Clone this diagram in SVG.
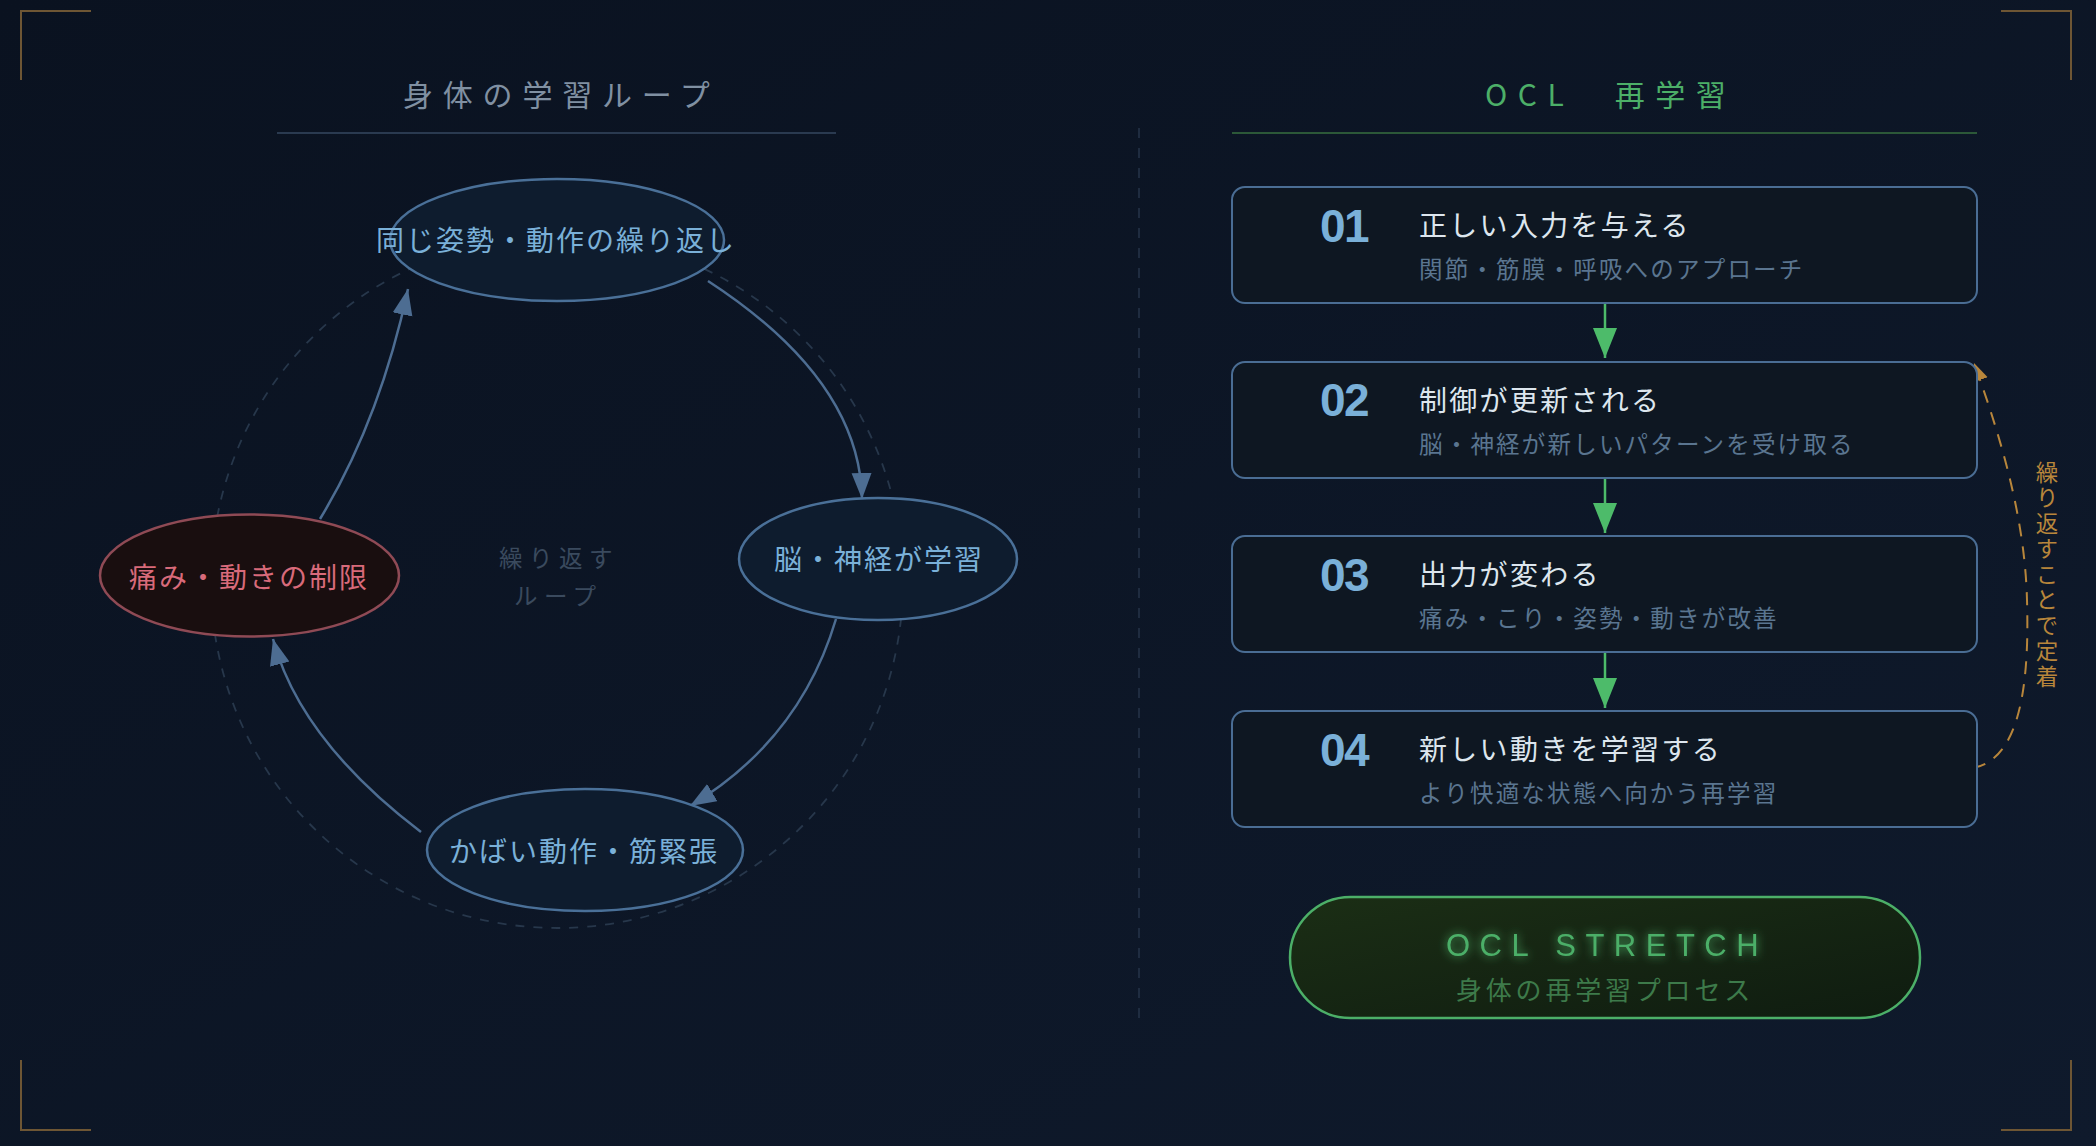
<svg xmlns="http://www.w3.org/2000/svg" width="2096" height="1146" viewBox="0 0 2096 1146">
<defs>
<linearGradient id="bg" x1="0" y1="0" x2="1" y2="1">
<stop offset="0" stop-color="#0a1220"/>
<stop offset="1" stop-color="#0f1a2c"/>
</linearGradient>
<linearGradient id="pill" x1="0" y1="0" x2="1" y2="1">
<stop offset="0" stop-color="#1b2e15"/>
<stop offset="1" stop-color="#0f1c10"/>
</linearGradient>
<filter id="glow" x="-20%" y="-50%" width="140%" height="200%">
<feGaussianBlur in="SourceGraphic" stdDeviation="5" result="b"/>
<feMerge><feMergeNode in="b"/><feMergeNode in="SourceGraphic"/></feMerge>
</filter>
<marker id="ah" markerUnits="userSpaceOnUse" markerWidth="28" markerHeight="22" refX="26" refY="10" orient="auto">
<path d="M0,0 L26,10 L0,20 z" fill="#4d6d92"/>
</marker>
<marker id="ahg" markerUnits="userSpaceOnUse" markerWidth="32" markerHeight="26" refX="30" refY="12" orient="auto">
<path d="M0,0 L30,12 L0,24 z" fill="#4dbb6a"/>
</marker>
<marker id="aho" markerUnits="userSpaceOnUse" markerWidth="20" markerHeight="18" refX="18" refY="8" orient="auto">
<path d="M0,0 L18,8 L0,16 z" fill="#b8863b"/>
</marker>
<style>
.jp{font-family:"Noto Sans CJK JP","Noto Sans CJK SC",sans-serif;}
.corner{fill:none;stroke:#6e5634;stroke-width:2;}
.ell{fill:#0e1c2e;stroke:#4a7098;stroke-width:2.5;}
.ellt{font-size:28px;letter-spacing:2px;fill:#7ab0d8;}
.conn{fill:none;stroke:#4d6d92;stroke-width:2.5;marker-end:url(#ah);}
.box{fill:#0e1722;stroke:#4a6d94;stroke-width:2;}
.num{font-family:"Liberation Sans",Arial,sans-serif;font-weight:bold;font-size:46px;fill:#7ab0d8;letter-spacing:-1.5px;}
.bt{font-size:28px;letter-spacing:2.3px;fill:#dde6ee;}
.bs{font-size:23.5px;letter-spacing:2.2px;fill:#5a7590;}
.garrow{stroke:#4dbb6a;stroke-width:2.5;marker-end:url(#ahg);}
</style>
</defs>
<rect x="0" y="0" width="2096" height="1146" fill="url(#bg)"/>

<g id="frame">
<path class="corner" d="M91,11 H21 V80"/>
<path class="corner" d="M2001,11 H2071 V80"/>
<path class="corner" d="M21,1060 V1130 H91"/>
<path class="corner" d="M2071,1060 V1130 H2001"/>
<line x1="1139" y1="128" x2="1139" y2="1026" stroke="#26354a" stroke-width="1.5" stroke-dasharray="10,10"/>
</g>

<g id="left-title">
<text class="jp" x="403" y="106" font-size="30" letter-spacing="9.8" fill="#8090a2">身体の学習ループ</text>
<line x1="277" y1="133" x2="836" y2="133" stroke="#2a3a50" stroke-width="2"/>
</g>

<g id="right-title">
<text class="jp" x="1485" y="106" font-size="30" letter-spacing="10.5" fill="#4caf68">OCL　再学習</text>
<line x1="1232" y1="133" x2="1977" y2="133" stroke="#2c5838" stroke-width="2"/>
</g>

<circle cx="557" cy="582" r="346" fill="none" stroke="#27374b" stroke-width="1.8" stroke-dasharray="9,9"/>

<g id="loop-center">
<text class="jp" x="499" y="567" font-size="23.5" letter-spacing="6.5" fill="#3a4a5e">繰り返す</text>
<text class="jp" x="514" y="605" font-size="23.5" letter-spacing="6.5" fill="#3a4a5e">ループ</text>
</g>

<g id="connectors">
<path class="conn" d="M708,281 Q860,380 862,499"/>
<path class="conn" d="M836,619 Q800,740 690,806"/>
<path class="conn" d="M421,832 Q300,740 273,639"/>
<path class="conn" d="M320,519 Q380,420 408,289"/>
<line class="garrow" x1="1605" y1="303" x2="1605" y2="358"/>
<line class="garrow" x1="1605" y1="478" x2="1605" y2="533"/>
<line class="garrow" x1="1605" y1="652" x2="1605" y2="708"/>
<path d="M1973,768 C2015,760 2030,700 2027,600 C2025,520 2002,440 1974,363" fill="none" stroke="#b8863b" stroke-width="2" stroke-dasharray="13,10" marker-end="url(#aho)"/>
</g>

<g id="node-repeat">
<ellipse class="ell" cx="557" cy="240" rx="167" ry="61"/>
<text class="jp ellt" x="376" y="251">同じ姿勢・動作の繰り返し</text>
</g>
<g id="node-brain">
<ellipse class="ell" cx="878" cy="559" rx="139" ry="61"/>
<text class="jp ellt" x="774" y="570">脳・神経が学習</text>
</g>
<g id="node-compensate">
<ellipse class="ell" cx="585" cy="850" rx="158" ry="61"/>
<text class="jp ellt" x="449" y="862">かばい動作・筋緊張</text>
</g>
<g id="node-pain">
<ellipse cx="249.5" cy="575.5" rx="149.5" ry="61" fill="#190e0f" stroke="#8f4a55" stroke-width="2.5"/>
<text class="jp ellt" x="129" y="588" style="fill:#d86a7a">痛み・動きの制限</text>
</g>

<g id="step-01">
<rect class="box" x="1232" y="187" width="745" height="116" rx="13"/>
<text class="num" x="1320" y="242">01</text>
<text class="jp bt" x="1419" y="236">正しい入力を与える</text>
<text class="jp bs" x="1419" y="278">関節・筋膜・呼吸へのアプローチ</text>
</g>
<g id="step-02">
<rect class="box" x="1232" y="362" width="745" height="116" rx="13"/>
<text class="num" x="1320" y="416">02</text>
<text class="jp bt" x="1419" y="411">制御が更新される</text>
<text class="jp bs" x="1419" y="453">脳・神経が新しいパターンを受け取る</text>
</g>
<g id="step-03">
<rect class="box" x="1232" y="536" width="745" height="116" rx="13"/>
<text class="num" x="1320" y="591">03</text>
<text class="jp bt" x="1419" y="585">出力が変わる</text>
<text class="jp bs" x="1419" y="627">痛み・こり・姿勢・動きが改善</text>
</g>
<g id="step-04">
<rect class="box" x="1232" y="711" width="745" height="116" rx="13"/>
<text class="num" x="1320" y="766">04</text>
<text class="jp bt" x="1419" y="760">新しい動きを学習する</text>
<text class="jp bs" x="1419" y="802">より快適な状態へ向かう再学習</text>
</g>

<g id="repeat-label">
<text class="jp" x="2043" y="461" font-size="22.5" letter-spacing="3" fill="#b8863b" style="writing-mode:vertical-rl;" dominant-baseline="middle">繰り返すことで定着</text>
</g>

<g id="ocl-stretch">
<rect x="1290" y="897" width="630" height="121" rx="60.5" fill="url(#pill)" stroke="#4caf68" stroke-width="2.5"/>
<text x="1446" y="956" font-family="Liberation Sans, Arial, sans-serif" font-size="31" letter-spacing="9.5" fill="#4caf68" filter="url(#glow)">OCL STRETCH</text>
<text class="jp" x="1456" y="1000" font-size="26" letter-spacing="3.8" fill="#3d7a4a">身体の再学習プロセス</text>
</g>
</svg>
